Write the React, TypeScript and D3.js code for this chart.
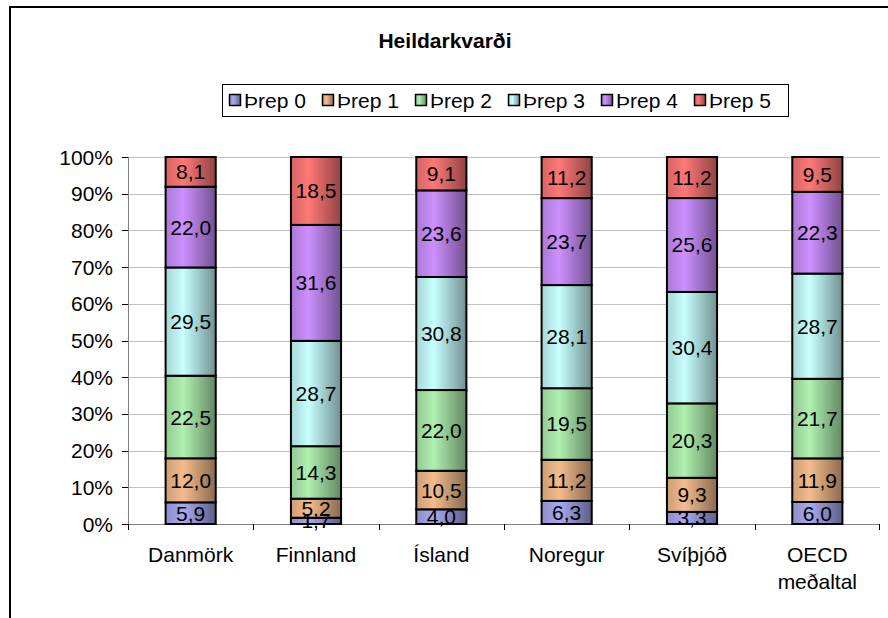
import React from "react";
import * as d3 from "d3";

const categories = ["Danmörk", "Finnland", "Ísland", "Noregur", "Svíþjóð", "OECD\nmeðaltal"];
const seriesNames = ["Þrep 0", "Þrep 1", "Þrep 2", "Þrep 3", "Þrep 4", "Þrep 5"];
const prep0 = [5.9, 1.7, 4.0, 6.3, 3.3, 6.0];
const prep1 = [12.0, 5.2, 10.5, 11.2, 9.3, 11.9];
const prep2 = [22.5, 14.3, 22.0, 19.5, 20.3, 21.7];
const prep3 = [29.5, 28.7, 30.8, 28.1, 30.4, 28.7];
const prep4 = [22.0, 31.6, 23.6, 23.7, 25.6, 22.3];
const prep5 = [8.1, 18.5, 9.1, 11.2, 11.2, 9.5];
const seriesValues = [prep0, prep1, prep2, prep3, prep4, prep5];
const yTicks = [0, 10, 20, 30, 40, 50, 60, 70, 80, 90, 100];
const colors = ["#a8a8f0", "#f4bc8c", "#b0f0b0", "#c8ffff", "#cc90ff", "#ff7878"];

const W = 888;
const H = 618;
const plotLeft = 128;
const plotRight = 880;
const plotTop = 157;
const plotBottom = 524;

function fmt(v: number) {
  return v.toFixed(1).replace(".", ",");
}

export default function App() {
  const x = d3.scaleBand<string>().domain(categories).range([plotLeft, plotRight]).paddingInner(0.6).paddingOuter(0.3);
  const xb = d3.scaleBand<string>().domain(categories).range([plotLeft, plotRight]);
  const y = d3.scaleLinear().domain([0, 1]).range([plotBottom, plotTop]);

  const table = categories.map((c, i) => {
    const row: any = { cat: c };
    const total = seriesValues.reduce((s, arr) => s + arr[i], 0);
    seriesNames.forEach((n, k) => (row[n] = seriesValues[k][i] / total));
    return row;
  });
  const stacked = d3.stack<any>().keys(seriesNames)(table);

  const font = "'Liberation Sans', Arial, sans-serif";
  const fs = 21;

  return (
    <svg width={W} height={H} style={{ position: "absolute", left: 0, top: 0 }} fontFamily={font}>
      <defs>
        {colors.map((c, k) => {
          const base = d3.rgb(c);
          return (
            <linearGradient key={k} id={`g${k}`} x1="0" x2="1" y1="0" y2="0">
              <stop offset="0%" stopColor={base.darker(0.5).formatHex()} />
              <stop offset="35%" stopColor={base.formatHex()} />
              <stop offset="100%" stopColor={base.darker(1.6).formatHex()} />
            </linearGradient>
          );
        })}
      </defs>
      <rect x={0} y={0} width={W} height={H} fill="#fff" />
      <rect x={10} y={7} width={1000} height={1000} fill="none" stroke="#000" strokeWidth={2} />
      <text x={445} y={48} textAnchor="middle" fontSize={fs} fontWeight="bold">
        Heildarkvarði
      </text>
      {/* legend */}
      <rect x={222.5} y={84.5} width={566} height={32} fill="#fff" stroke="#000" strokeWidth={1} />
      {seriesNames.map((n, k) => (
        <g key={n} transform={`translate(${229 + k * 93},0)`}>
          <rect x={0.5} y={94.5} width={11} height={11} fill={`url(#g${k})`} stroke="#000" strokeWidth={1.5} />
          <text x={15} y={108} fontSize={fs}>
            {n}
          </text>
        </g>
      ))}
      {/* gridlines */}
      {yTicks.map((t) => (
        <line key={t} x1={plotLeft} x2={plotRight} y1={Math.round(y(t / 100)) + 0.5} y2={Math.round(y(t / 100)) + 0.5} stroke={t === 0 ? "#808080" : "#c0c0c0"} strokeWidth={1} />
      ))}
      {/* y axis */}
      <line x1={plotLeft + 0.5} x2={plotLeft + 0.5} y1={plotTop} y2={plotBottom + 1} stroke="#808080" />
      {yTicks.map((t) => (
        <g key={t}>
          <line x1={plotLeft - 6} x2={plotLeft} y1={Math.round(y(t / 100)) + 0.5} y2={Math.round(y(t / 100)) + 0.5} stroke="#000" />
          <text x={plotLeft - 15} y={y(t / 100) + 7.5} textAnchor="end" fontSize={fs}>
            {t}%
          </text>
        </g>
      ))}
      {/* x axis ticks */}
      {categories.map((c) => (
        <line key={c} x1={Math.round(xb(c)!) + 0.5} x2={Math.round(xb(c)!) + 0.5} y1={plotBottom} y2={plotBottom + 6} stroke="#000" />
      ))}
      <line x1={plotRight - 0.5} x2={plotRight - 0.5} y1={plotBottom} y2={plotBottom + 6} stroke="#000" />
      {/* bars */}
      {stacked.map((layer, k) =>
        layer.map((d, i) => {
          const c = categories[i];
          const y0 = y(d[0]);
          const y1 = y(d[1]);
          return (
            <rect key={`${k}-${i}`} x={x(c)} y={y1} width={x.bandwidth()} height={y0 - y1} fill={`url(#g${k})`} stroke="#000" strokeWidth={2} />
          );
        })
      )}
      {stacked.map((layer, k) =>
        layer.map((d, i) => {
          const c = categories[i];
          const ym = (y(d[0]) + y(d[1])) / 2;
          return (
            <text key={`t${k}-${i}`} x={x(c)! + x.bandwidth() / 2} y={ym + 7.5} textAnchor="middle" fontSize={fs}>
              {fmt(seriesValues[k][i])}
            </text>
          );
        })
      )}
      {/* x labels */}
      {categories.map((c) => (
        <text key={c} x={x(c)! + x.bandwidth() / 2} y={plotBottom + 38} textAnchor="middle" fontSize={fs}>
          {c.split("\n").map((line, j) => (
            <tspan key={j} x={x(c)! + x.bandwidth() / 2} dy={j === 0 ? 0 : 27}>
              {line}
            </tspan>
          ))}
        </text>
      ))}
    </svg>
  );
}
